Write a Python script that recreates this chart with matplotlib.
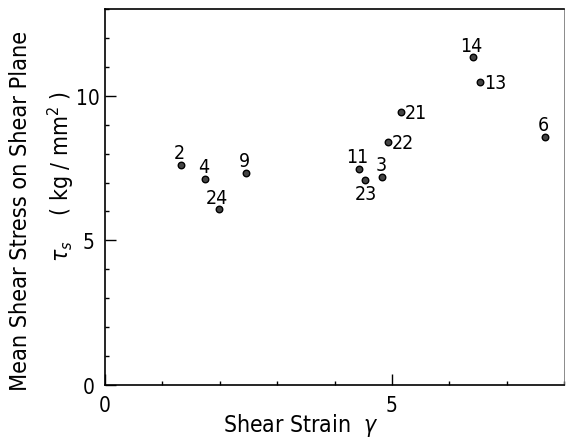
import matplotlib
matplotlib.use("Agg")
import matplotlib.pyplot as plt
from matplotlib.ticker import MultipleLocator

plt.rcParams['font.family'] = ['DejaVu Sans']
plt.rcParams['font.stretch'] = 'condensed'

labels = ["2", "4", "24", "9", "11", "23", "3", "22", "21", "14", "13", "6"]
strain = [1.32, 1.74, 1.98, 2.45, 4.42, 4.54, 4.83, 4.93, 5.16, 6.41, 6.54, 7.67]
stress = [7.60, 7.13, 6.07, 7.33, 7.48, 7.08, 7.20, 8.40, 9.43, 11.33, 10.47, 8.58]
# label placement: a=above, b=below, r=right
place = ["a", "a", "a", "a", "a", "b", "a", "r", "r", "a", "r", "a"]

W, H = 566, 439
fig = plt.figure(figsize=(W / 100, H / 100), dpi=100)
ax = fig.add_axes([105 / W, (H - 386) / H, 459 / W, 376 / H])

ax.scatter(strain, stress, s=22, facecolor="#444444", edgecolor="black",
           linewidths=1.0, zorder=3)

for x, y, t, p in zip(strain, stress, labels, place):
    if p == "a":
        ax.annotate(t, (x, y), xytext=(-1, 2), textcoords="offset points",
                    ha="center", va="bottom", fontsize=14)
    elif p == "b":
        ax.annotate(t, (x, y), xytext=(0, -3), textcoords="offset points",
                    ha="center", va="top", fontsize=14)
    else:
        ax.annotate(t, (x, y), xytext=(2.5, 0), textcoords="offset points",
                    ha="left", va="center", fontsize=14)

ax.set_xlim(0, 8)
ax.set_ylim(0, 13)
ax.set_xticks([0, 5])
ax.set_yticks([0, 5, 10])
ax.xaxis.set_minor_locator(MultipleLocator(1))
ax.yaxis.set_minor_locator(MultipleLocator(1))
ax.tick_params(which="both", direction="in", top=False, right=False,
               labelsize=15, width=1.0)
ax.tick_params(axis="x", which="both", pad=7)
ax.tick_params(axis="y", which="both", pad=12)
ax.tick_params(which="major", length=8)
ax.tick_params(which="minor", length=3)
for lbl in ax.get_yticklabels():
    lbl.set_horizontalalignment("center")

for s in ax.spines.values():
    s.set_linewidth(1.2)
ax.spines["right"].set_linewidth(0.6)
ax.spines["right"].set_color("#777777")

fig.text(301 / W, 1 - 426 / H, r"Shear Strain  $\gamma$", ha="center", va="center",
         fontsize=16.5)
fig.text(21 / W, 1 - 211 / H, "Mean Shear Stress on Shear Plane", rotation=90,
         ha="center", va="center", fontsize=16.8)
fig.text(61 / W, 1 - 176 / H, r"$\tau_s$    ( kg / mm$^2$ )", rotation=90,
         ha="center", va="center", fontsize=16.5)

fig.savefig("out.png", dpi=100)
